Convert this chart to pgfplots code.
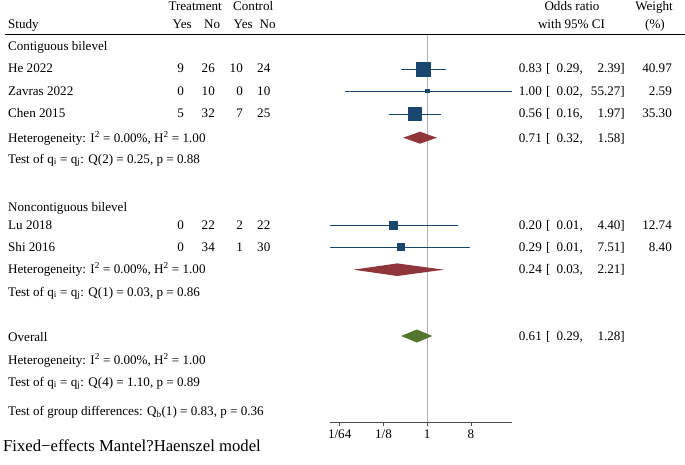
\documentclass[border=0pt]{standalone}
\usepackage{fontspec}
\setmainfont{Liberation Serif}
\usepackage{pgfplots}
\pgfplotsset{compat=1.18}

\definecolor{stnavy}{HTML}{1A476F}
\definecolor{stmaroon}{HTML}{90353B}
\definecolor{stgreen}{HTML}{55752F}

% text helpers (x, baseline y in pixels)
\newcommand{\tl}[3]{\node[anchor=base west,inner sep=0pt] at (axis cs:#1,#2) {#3};}
\newcommand{\tr}[3]{\node[anchor=base east,inner sep=0pt] at (axis cs:#1,#2) {#3};}
% estimate [lo, hi]
\newcommand{\ci}[4]{\tr{542}{#1}{#2}\tl{546}{#1}{[}\tr{583}{#1}{#3,}\tr{625}{#1}{#4]}}
% yes/no counts
\newcommand{\cnt}[5]{\tr{184}{#1}{#2}\tr{215}{#1}{#3}\tr{243}{#1}{#4}\tr{270.5}{#1}{#5}}

\begin{document}
\begin{tikzpicture}[font=\fontsize{13.1}{15}\selectfont]
\path[use as bounding box] (0,0) rectangle (685pt,464pt);

% ---- text layer ----
\begin{axis}[at={(0pt,0pt)}, anchor=south west, scale only axis,
    width=685pt, height=464pt, xmin=0, xmax=685, ymin=0, ymax=464,
    y dir=reverse, hide axis, clip=false]
  \addplot[black, line width=0.8pt] coordinates {(5,34) (685,34)};

  \tl{168.3}{10}{Treatment}
  \tl{233}{10}{Control}
  \tl{8}{28}{Study}
  \tl{172.5}{28}{Yes}
  \tl{204}{28}{No}
  \tl{233.5}{28}{Yes}
  \tl{259.5}{28}{No}
  \node[anchor=base,inner sep=0pt] at (axis cs:572,10) {Odds ratio};
  \node[anchor=base,inner sep=0pt] at (axis cs:571.5,28) {with 95\% CI};
  \node[anchor=base,inner sep=0pt] at (axis cs:654,10) {Weight};
  \node[anchor=base,inner sep=0pt] at (axis cs:655,28) {(\%)};

  \tl{8}{50}{Contiguous bilevel}
  \tl{8}{72.5}{He 2022}      \cnt{72.5}{9}{26}{10}{24}
  \tl{8}{95}{Zavras 2022}    \cnt{95}{0}{10}{0}{10}
  \tl{8}{117.5}{Chen 2015}   \cnt{117.5}{5}{32}{7}{25}
  \tl{8}{142}{Heterogeneity: I\textsuperscript{2} = 0.00\%, H\textsuperscript{2} = 1.00}
  \tl{8}{163}{Test of q\textsubscript{i} = q\textsubscript{j}: Q(2) = 0.25, p = 0.88}

  \tl{8}{211}{Noncontiguous bilevel}
  \tl{8}{229}{Lu 2018}       \cnt{229}{0}{22}{2}{22}
  \tl{8}{251}{Shi 2016}      \cnt{251}{0}{34}{1}{30}
  \tl{8}{273}{Heterogeneity: I\textsuperscript{2} = 0.00\%, H\textsuperscript{2} = 1.00}
  \tl{8}{296}{Test of q\textsubscript{i} = q\textsubscript{j}: Q(1) = 0.03, p = 0.86}

  \tl{8}{341}{Overall}
  \tl{8}{364}{Heterogeneity: I\textsuperscript{2} = 0.00\%, H\textsuperscript{2} = 1.00}
  \tl{8}{386}{Test of q\textsubscript{i} = q\textsubscript{j}: Q(4) = 1.10, p = 0.89}
  \tl{8}{415}{Test of group differences: Q\textsubscript{b}(1) = 0.83, p = 0.36}
  \node[anchor=base west,inner sep=0pt,font=\fontsize{16.7}{18}\selectfont]
    at (axis cs:3,451.5) {Fixed−effects Mantel?Haenszel model};

  \ci{72.5}{0.83}{0.29}{2.39}   \tr{672}{72.5}{40.97}
  \ci{95}{1.00}{0.02}{55.27}    \tr{672}{95}{2.59}
  \ci{117.5}{0.56}{0.16}{1.97}  \tr{672}{117.5}{35.30}
  \ci{142}{0.71}{0.32}{1.58}
  \ci{229}{0.20}{0.01}{4.40}    \tr{672}{229}{12.74}
  \ci{251}{0.29}{0.01}{7.51}    \tr{672}{251}{8.40}
  \ci{273}{0.24}{0.03}{2.21}
  \ci{340}{0.61}{0.29}{1.28}
\end{axis}

% ---- forest panel (y = -pixel row) ----
\begin{axis}[at={(330.3pt,42pt)}, anchor=south west, scale only axis,
    width=182pt, height=388pt,
    xmode=log, log basis x=2, xmin=0.01, xmax=57,
    ymin=-422, ymax=-34,
    axis x line*=bottom, axis y line=none,
    x axis line style={-, black!70, line width=0.8pt},
    xtick={0.015625,0.125,1,8}, xticklabels={1/64,1/8,1,8},
    tick align=outside, major tick length=4pt,
    tick style={black!70, line width=0.6pt},
    clip=false]
  % line of no effect
  \addplot[black!30, line width=0.9pt] coordinates {(1,-35) (1,-422)};

  % study CIs
  \addplot[stnavy, line width=0.8pt] coordinates {(0.29,-69) (2.39,-69)};
  \addplot[stnavy, line width=0.8pt] coordinates {(0.02,-91) (55.27,-91)};
  \addplot[stnavy, line width=0.8pt] coordinates {(0.16,-114) (1.97,-114)};
  \addplot[stnavy, line width=0.8pt] coordinates {(0.01,-225) (4.40,-225)};
  \addplot[stnavy, line width=0.8pt] coordinates {(0.01,-247) (7.51,-247)};

  % study point estimates (size by weight)
  \addplot[only marks, mark=square*, mark size=6.85pt, stnavy] coordinates {(0.83,-69)};
  \addplot[only marks, mark=square*, mark size=1.7pt, stnavy] coordinates {(1.00,-91)};
  \addplot[only marks, mark=square*, mark size=6.35pt, stnavy] coordinates {(0.56,-114)};
  \addplot[only marks, mark=square*, mark size=4.3pt, stnavy] coordinates {(0.20,-225)};
  \addplot[only marks, mark=square*, mark size=3.5pt, stnavy] coordinates {(0.29,-247)};

  % pooled diamonds
  \addplot[fill=stmaroon, draw=none] coordinates
    {(0.32,-137.7) (0.71,-131.7) (1.58,-137.7) (0.71,-143.7)};
  \addplot[fill=stmaroon, draw=none] coordinates
    {(0.03,-269.7) (0.24,-263.4) (2.21,-269.7) (0.24,-276)};
  \addplot[fill=stgreen, draw=none] coordinates
    {(0.29,-336) (0.61,-329.5) (1.28,-336) (0.61,-342.5)};
\end{axis}
\end{tikzpicture}
\end{document}
